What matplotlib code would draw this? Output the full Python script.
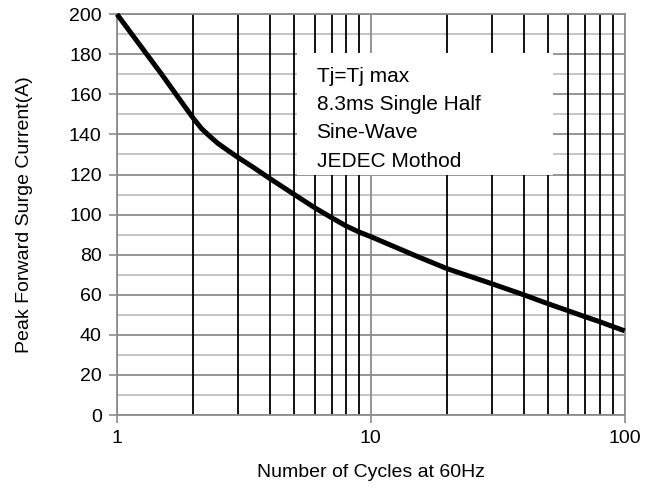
import matplotlib
matplotlib.use("Agg")
import numpy as np
import matplotlib.pyplot as plt
from matplotlib.patches import Rectangle
from matplotlib.ticker import FixedLocator, NullFormatter

plt.rcParams['font.family'] = ['Liberation Sans', 'DejaVu Sans']

# surge current curve
cycles = [1, 1.2, 1.5, 1.8, 2, 2.15, 2.3, 2.5, 2.7, 3, 3.5, 4, 5, 6, 7, 8, 9, 10,
          15, 20, 30, 40, 50, 60, 70, 80, 100]
current = [200, 186.5, 170, 156, 148, 143, 139.5, 135.5, 132.5, 128.5, 123, 118,
           110, 103.5, 98.5, 94.3, 91.3, 89, 79.5, 73, 65.5, 60, 55.5, 52, 49, 46.5, 42]

x_ticks = [1, 10, 100]
x_labels = ["1", "10", "100"]
y_ticks = list(range(0, 201, 20))
note_lines = ["Tj=Tj max", "8.3ms Single Half", "Sine-Wave", "JEDEC Mothod"]

grey = "#8c8c8c"
light = "#c0c0c0"

fig = plt.figure(figsize=(6.5, 4.9), dpi=100)
ax = fig.add_axes([0.18, 0.153, 0.781, 0.818])

ax.set_xscale("log")
ax.set_xlim(1, 100)
ax.set_ylim(0, 200)

ax.set_xticks(x_ticks)
ax.set_xticklabels(x_labels)
ax.xaxis.set_minor_locator(FixedLocator([d * k for d in (1, 10) for k in range(2, 10)]))
ax.xaxis.set_minor_formatter(NullFormatter())
ax.set_yticks(y_ticks)
ax.yaxis.set_minor_locator(FixedLocator(list(range(10, 200, 20))))

ax.grid(True, which="major", axis="both", color=grey, lw=1.3)
ax.grid(True, which="minor", axis="x", color="black", lw=1.3)
ax.grid(True, which="minor", axis="y", color=light, lw=1.3)
ax.set_axisbelow(True)
# horizontal lines under the black verticals
ax.yaxis.set_zorder(0.4)

ax.tick_params(which="major", direction="out", length=6, width=1.2, color=grey,
               labelsize=14, pad=5)
ax.tick_params(which="minor", length=0)
for s in ax.spines.values():
    s.set_color(grey)
    s.set_linewidth(1.3)

# note box
ax.add_patch(Rectangle((0.355, 0.599), 0.503, 0.305, transform=ax.transAxes,
                       facecolor="white", edgecolor="none", zorder=2))
for i, line in enumerate(note_lines):
    ax.text(0.393, 0.83 - i * 0.07, line, transform=ax.transAxes, fontsize=15,
            va="baseline", ha="left", zorder=3)

ax.plot(cycles, current, color="black", lw=3.6, solid_capstyle="butt",
        solid_joinstyle="round", zorder=4, clip_on=False)

ax.set_xlabel("Number of Cycles at 60Hz", fontsize=14, labelpad=12)
ax.set_ylabel("Peak Forward Surge Current(A)", fontsize=14, labelpad=26)

fig.savefig("out.png", dpi=100)
